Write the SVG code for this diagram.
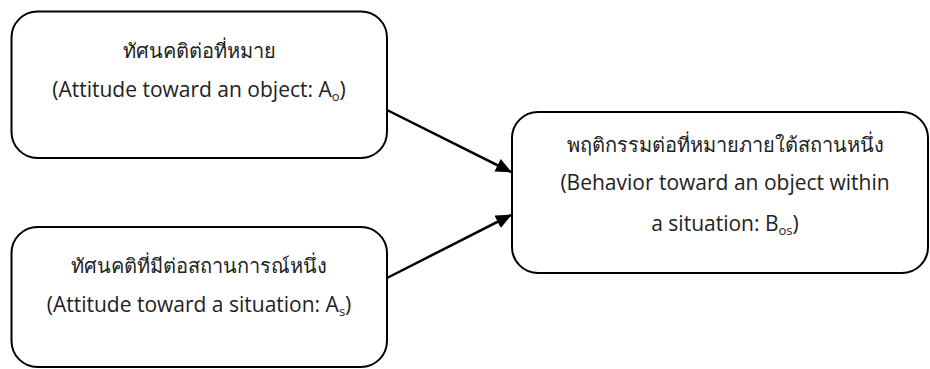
<svg xmlns="http://www.w3.org/2000/svg" width="930" height="369" viewBox="0 0 930 369">
<defs>
<style>
.box{fill:#fff;stroke:#000;stroke-width:2}
.t{font-family:"Open Sans","Noto Sans","DejaVu Sans",sans-serif;font-size:21px;fill:#222;text-anchor:middle}
.th{font-size:20px}
.sub{font-size:13px}
.edge{stroke:#000;stroke-width:2.5;fill:none}
</style>
<marker id="ah" markerWidth="16" markerHeight="14" refX="15" refY="7" orient="auto" markerUnits="userSpaceOnUse" viewBox="0 0 16 14">
<path d="M0,0 L16,7 L0,14 z" fill="#000"/>
</marker>
</defs>
<rect width="930" height="369" fill="#fff"/>
<g id="node-attitude-object">
<rect class="box" x="11.5" y="11.5" width="375.5" height="146.5" rx="26"/>
<text class="t th" x="199" y="58">ทัศนคติต่อที่หมาย</text>
<text class="t" x="199" y="97">(Attitude toward an object: A<tspan class="sub" dy="4">o</tspan><tspan dy="-4">)</tspan></text>
</g>
<g id="node-attitude-situation">
<rect class="box" x="11.5" y="227" width="375.5" height="140" rx="26"/>
<text class="t th" x="199" y="273">ทัศนคติที่มีต่อสถานการณ์หนึ่ง</text>
<text class="t" x="199" y="312">(Attitude toward a situation: A<tspan class="sub" dy="4">s</tspan><tspan dy="-4">)</tspan></text>
</g>
<g id="node-behavior">
<rect class="box" x="512" y="112" width="416" height="161" rx="26"/>
<text class="t th" x="725" y="152">พฤติกรรมต่อที่หมายภายใต้สถานหนึ่ง</text>
<text class="t" x="725" y="190">(Behavior toward an object within</text>
<text class="t" x="725" y="231">a situation: B<tspan class="sub" dy="4">os</tspan><tspan dy="-4">)</tspan></text>
</g>
<g id="connectors">
<line class="edge" x1="387" y1="110" x2="511" y2="172" marker-end="url(#ah)"/>
<line class="edge" x1="387" y1="278" x2="511" y2="215" marker-end="url(#ah)"/>
</g>
</svg>
